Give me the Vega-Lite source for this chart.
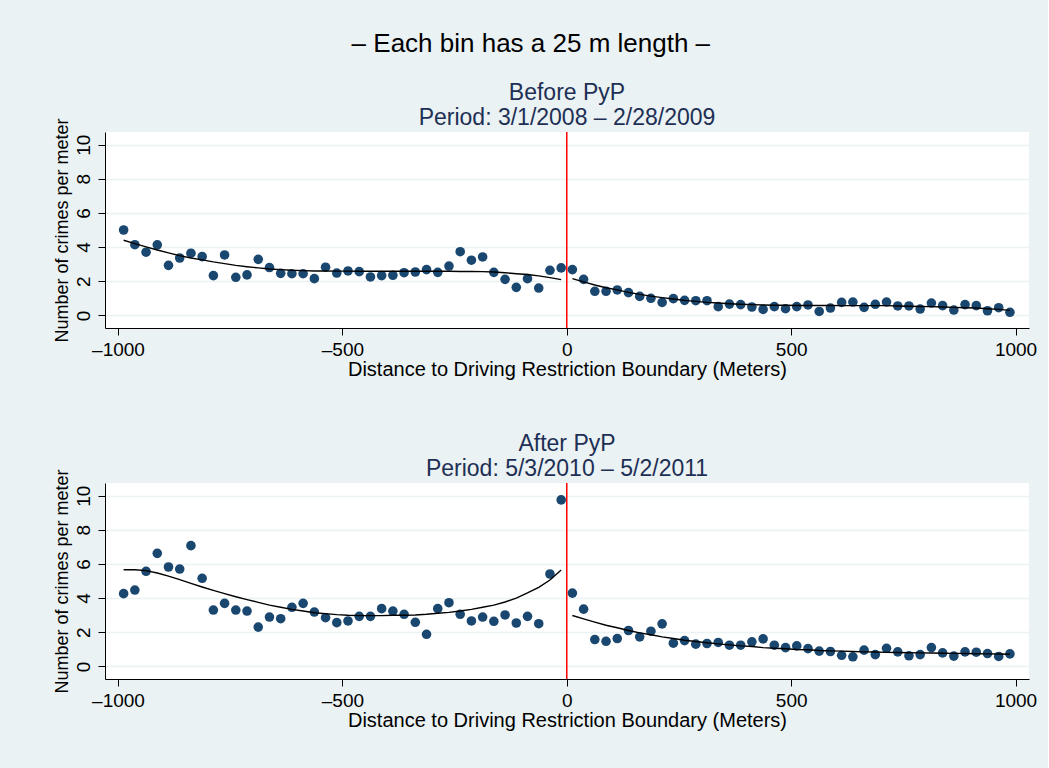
{
  "$schema": "https://vega.github.io/schema/vega-lite/v6.json",
  "background": "#EAF2F3",
  "padding": {"left": 53, "top": 30, "right": 11, "bottom": 38},
  "title": {"text": "– Each bin has a 25 m length –", "fontSize": 26, "fontWeight": "normal", "color": "#000000", "anchor": "middle", "offset": 25, "dx": -14},
  "spacing": 53,
  "datasets": {
    "before": [
      {"side":"L","x":-987.5,"y":5.00,"fit":4.40},{"side":"L","x":-962.5,"y":4.14,"fit":4.20},{"side":"L","x":-937.5,"y":3.70,"fit":4.01},{"side":"L","x":-912.5,"y":4.13,"fit":3.83},
      {"side":"L","x":-887.5,"y":2.93,"fit":3.66},{"side":"L","x":-862.5,"y":3.36,"fit":3.50},{"side":"L","x":-837.5,"y":3.64,"fit":3.36},{"side":"L","x":-812.5,"y":3.44,"fit":3.25},
      {"side":"L","x":-787.5,"y":2.33,"fit":3.13},{"side":"L","x":-762.5,"y":3.54,"fit":3.03},{"side":"L","x":-737.5,"y":2.23,"fit":2.93},{"side":"L","x":-712.5,"y":2.37,"fit":2.85},
      {"side":"L","x":-687.5,"y":3.28,"fit":2.78},{"side":"L","x":-662.5,"y":2.80,"fit":2.72},{"side":"L","x":-637.5,"y":2.46,"fit":2.68},{"side":"L","x":-612.5,"y":2.44,"fit":2.64},
      {"side":"L","x":-587.5,"y":2.44,"fit":2.62},{"side":"L","x":-562.5,"y":2.15,"fit":2.60},{"side":"L","x":-537.5,"y":2.82,"fit":2.60},{"side":"L","x":-512.5,"y":2.48,"fit":2.59},
      {"side":"L","x":-487.5,"y":2.60,"fit":2.59},{"side":"L","x":-462.5,"y":2.56,"fit":2.58},{"side":"L","x":-437.5,"y":2.25,"fit":2.58},{"side":"L","x":-412.5,"y":2.33,"fit":2.58},
      {"side":"L","x":-387.5,"y":2.35,"fit":2.58},{"side":"L","x":-362.5,"y":2.50,"fit":2.58},{"side":"L","x":-337.5,"y":2.54,"fit":2.58},{"side":"L","x":-312.5,"y":2.68,"fit":2.58},
      {"side":"L","x":-287.5,"y":2.52,"fit":2.58},{"side":"L","x":-262.5,"y":2.89,"fit":2.58},{"side":"L","x":-237.5,"y":3.73,"fit":2.57},{"side":"L","x":-212.5,"y":3.23,"fit":2.57},
      {"side":"L","x":-187.5,"y":3.42,"fit":2.56},{"side":"L","x":-162.5,"y":2.52,"fit":2.54},{"side":"L","x":-137.5,"y":2.11,"fit":2.50},{"side":"L","x":-112.5,"y":1.64,"fit":2.44},
      {"side":"L","x":-87.5,"y":2.15,"fit":2.39},{"side":"L","x":-62.5,"y":1.60,"fit":2.31},{"side":"L","x":-37.5,"y":2.64,"fit":2.21},{"side":"L","x":-12.5,"y":2.78,"fit":2.09},
      {"side":"R","x":12.5,"y":2.68,"fit":2.15},{"side":"R","x":37.5,"y":2.11,"fit":1.96},{"side":"R","x":62.5,"y":1.41,"fit":1.78},{"side":"R","x":87.5,"y":1.41,"fit":1.62},
      {"side":"R","x":112.5,"y":1.49,"fit":1.49},{"side":"R","x":137.5,"y":1.33,"fit":1.35},{"side":"R","x":162.5,"y":1.11,"fit":1.23},{"side":"R","x":187.5,"y":1.00,"fit":1.13},
      {"side":"R","x":212.5,"y":0.76,"fit":1.04},{"side":"R","x":237.5,"y":0.98,"fit":0.96},{"side":"R","x":262.5,"y":0.88,"fit":0.88},{"side":"R","x":287.5,"y":0.86,"fit":0.82},
      {"side":"R","x":312.5,"y":0.86,"fit":0.76},{"side":"R","x":337.5,"y":0.51,"fit":0.72},{"side":"R","x":362.5,"y":0.66,"fit":0.68},{"side":"R","x":387.5,"y":0.63,"fit":0.65},
      {"side":"R","x":412.5,"y":0.49,"fit":0.63},{"side":"R","x":437.5,"y":0.35,"fit":0.61},{"side":"R","x":462.5,"y":0.51,"fit":0.59},{"side":"R","x":487.5,"y":0.39,"fit":0.59},
      {"side":"R","x":512.5,"y":0.51,"fit":0.58},{"side":"R","x":537.5,"y":0.61,"fit":0.58},{"side":"R","x":562.5,"y":0.23,"fit":0.58},{"side":"R","x":587.5,"y":0.43,"fit":0.58},
      {"side":"R","x":612.5,"y":0.76,"fit":0.57},{"side":"R","x":637.5,"y":0.78,"fit":0.57},{"side":"R","x":662.5,"y":0.47,"fit":0.57},{"side":"R","x":687.5,"y":0.65,"fit":0.57},
      {"side":"R","x":712.5,"y":0.78,"fit":0.57},{"side":"R","x":737.5,"y":0.55,"fit":0.55},{"side":"R","x":762.5,"y":0.55,"fit":0.53},{"side":"R","x":787.5,"y":0.37,"fit":0.52},
      {"side":"R","x":812.5,"y":0.72,"fit":0.51},{"side":"R","x":837.5,"y":0.57,"fit":0.49},{"side":"R","x":862.5,"y":0.31,"fit":0.47},{"side":"R","x":887.5,"y":0.63,"fit":0.45},
      {"side":"R","x":912.5,"y":0.57,"fit":0.43},{"side":"R","x":937.5,"y":0.27,"fit":0.39},{"side":"R","x":962.5,"y":0.45,"fit":0.35},{"side":"R","x":987.5,"y":0.18,"fit":0.29}
    ],
    "after": [
      {"side":"L","x":-987.5,"y":4.26,"fit":5.66},{"side":"L","x":-962.5,"y":4.47,"fit":5.66},{"side":"L","x":-937.5,"y":5.57,"fit":5.61},{"side":"L","x":-912.5,"y":6.62,"fit":5.47},
      {"side":"L","x":-887.5,"y":5.82,"fit":5.29},{"side":"L","x":-862.5,"y":5.70,"fit":5.08},{"side":"L","x":-837.5,"y":7.07,"fit":4.86},{"side":"L","x":-812.5,"y":5.16,"fit":4.65},
      {"side":"L","x":-787.5,"y":3.30,"fit":4.45},{"side":"L","x":-762.5,"y":3.69,"fit":4.26},{"side":"L","x":-737.5,"y":3.30,"fit":4.08},{"side":"L","x":-712.5,"y":3.24,"fit":3.91},
      {"side":"L","x":-687.5,"y":2.30,"fit":3.75},{"side":"L","x":-662.5,"y":2.89,"fit":3.59},{"side":"L","x":-637.5,"y":2.79,"fit":3.46},{"side":"L","x":-612.5,"y":3.46,"fit":3.34},
      {"side":"L","x":-587.5,"y":3.69,"fit":3.24},{"side":"L","x":-562.5,"y":3.18,"fit":3.14},{"side":"L","x":-537.5,"y":2.85,"fit":3.09},{"side":"L","x":-512.5,"y":2.56,"fit":3.03},
      {"side":"L","x":-487.5,"y":2.66,"fit":2.99},{"side":"L","x":-462.5,"y":2.93,"fit":2.97},{"side":"L","x":-437.5,"y":2.93,"fit":2.97},{"side":"L","x":-412.5,"y":3.38,"fit":2.97},
      {"side":"L","x":-387.5,"y":3.24,"fit":2.99},{"side":"L","x":-362.5,"y":3.05,"fit":2.99},{"side":"L","x":-337.5,"y":2.58,"fit":3.01},{"side":"L","x":-312.5,"y":1.88,"fit":3.05},
      {"side":"L","x":-287.5,"y":3.38,"fit":3.11},{"side":"L","x":-262.5,"y":3.73,"fit":3.16},{"side":"L","x":-237.5,"y":3.05,"fit":3.24},{"side":"L","x":-212.5,"y":2.66,"fit":3.34},
      {"side":"L","x":-187.5,"y":2.89,"fit":3.46},{"side":"L","x":-162.5,"y":2.64,"fit":3.59},{"side":"L","x":-137.5,"y":3.01,"fit":3.77},{"side":"L","x":-112.5,"y":2.54,"fit":4.00},
      {"side":"L","x":-87.5,"y":2.93,"fit":4.30},{"side":"L","x":-62.5,"y":2.50,"fit":4.63},{"side":"L","x":-37.5,"y":5.41,"fit":5.06},{"side":"L","x":-12.5,"y":9.75,"fit":5.64},
      {"side":"R","x":12.5,"y":4.29,"fit":2.98},{"side":"R","x":37.5,"y":3.35,"fit":2.78},{"side":"R","x":62.5,"y":1.57,"fit":2.59},{"side":"R","x":87.5,"y":1.47,"fit":2.41},
      {"side":"R","x":112.5,"y":1.63,"fit":2.26},{"side":"R","x":137.5,"y":2.10,"fit":2.10},{"side":"R","x":162.5,"y":1.73,"fit":1.96},{"side":"R","x":187.5,"y":2.06,"fit":1.85},
      {"side":"R","x":212.5,"y":2.49,"fit":1.73},{"side":"R","x":237.5,"y":1.36,"fit":1.63},{"side":"R","x":262.5,"y":1.51,"fit":1.53},{"side":"R","x":287.5,"y":1.30,"fit":1.46},
      {"side":"R","x":312.5,"y":1.34,"fit":1.38},{"side":"R","x":337.5,"y":1.40,"fit":1.32},{"side":"R","x":362.5,"y":1.24,"fit":1.26},{"side":"R","x":387.5,"y":1.24,"fit":1.20},
      {"side":"R","x":412.5,"y":1.44,"fit":1.16},{"side":"R","x":437.5,"y":1.61,"fit":1.10},{"side":"R","x":462.5,"y":1.24,"fit":1.06},{"side":"R","x":487.5,"y":1.10,"fit":1.03},
      {"side":"R","x":512.5,"y":1.20,"fit":0.99},{"side":"R","x":537.5,"y":1.04,"fit":0.97},{"side":"R","x":562.5,"y":0.89,"fit":0.93},{"side":"R","x":587.5,"y":0.87,"fit":0.91},
      {"side":"R","x":612.5,"y":0.65,"fit":0.89},{"side":"R","x":637.5,"y":0.56,"fit":0.87},{"side":"R","x":662.5,"y":0.95,"fit":0.85},{"side":"R","x":687.5,"y":0.69,"fit":0.84},
      {"side":"R","x":712.5,"y":1.06,"fit":0.82},{"side":"R","x":737.5,"y":0.85,"fit":0.81},{"side":"R","x":762.5,"y":0.62,"fit":0.80},{"side":"R","x":787.5,"y":0.69,"fit":0.79},
      {"side":"R","x":812.5,"y":1.10,"fit":0.78},{"side":"R","x":837.5,"y":0.79,"fit":0.77},{"side":"R","x":862.5,"y":0.60,"fit":0.76},{"side":"R","x":887.5,"y":0.85,"fit":0.75},
      {"side":"R","x":912.5,"y":0.83,"fit":0.74},{"side":"R","x":937.5,"y":0.75,"fit":0.73},{"side":"R","x":962.5,"y":0.58,"fit":0.72},{"side":"R","x":987.5,"y":0.73,"fit":0.71}
    ],
    "boundary": [{"x0": 0}]
  },
  "vconcat": [
    {
      "width": 924, "height": 196,
      "title": {"text": ["Before PyP", "Period: 3/1/2008 – 2/28/2009"], "fontSize": 23, "fontWeight": "normal", "color": "#1E2F55", "lineHeight": 25, "offset": -12, "anchor": "middle"},
      "layer": [
        {"data": {"name": "before"}, "mark": {"type": "point", "filled": true, "size": 92, "color": "#1A476F", "opacity": 1},
         "encoding": {
           "x": {"field": "x", "type": "quantitative", "scale": {"domain": [-1029, 1030], "nice": false, "zero": false},
                 "axis": {"values": [-1000, -500, 0, 500, 1000], "title": "Distance to Driving Restriction Boundary (Meters)", "grid": false, "labelExpr": "datum.value < 0 ? '–' + abs(datum.value) : '' + datum.value"}},
           "y": {"field": "y", "type": "quantitative", "scale": {"domain": [-0.74, 10.74], "nice": false, "zero": false},
                 "axis": {"values": [0, 2, 4, 6, 8, 10], "title": "Number of crimes per meter", "grid": true, "labelOverlap": false}}
         }},
        {"data": {"name": "before"}, "mark": {"type": "line", "color": "#000000", "strokeWidth": 1.4},
         "encoding": {
           "x": {"field": "x", "type": "quantitative",
                 "axis": {"values": [-1000, -500, 0, 500, 1000], "title": "Distance to Driving Restriction Boundary (Meters)", "grid": false, "labelExpr": "datum.value < 0 ? '–' + abs(datum.value) : '' + datum.value"}},
           "y": {"field": "fit", "type": "quantitative",
                 "axis": {"values": [0, 2, 4, 6, 8, 10], "title": "Number of crimes per meter", "grid": true, "labelOverlap": false}},
           "detail": {"field": "side"}}},
        {"data": {"name": "boundary"}, "mark": {"type": "rule", "color": "#FF0000", "strokeWidth": 1.5},
         "encoding": {"x": {"field": "x0", "type": "quantitative",
                 "axis": {"values": [-1000, -500, 0, 500, 1000], "title": "Distance to Driving Restriction Boundary (Meters)", "grid": false, "labelExpr": "datum.value < 0 ? '–' + abs(datum.value) : '' + datum.value"}}}}
      ]
    },
    {
      "width": 924, "height": 196,
      "title": {"text": ["After PyP", "Period: 5/3/2010 – 5/2/2011"], "fontSize": 23, "fontWeight": "normal", "color": "#1E2F55", "lineHeight": 25, "offset": -12, "anchor": "middle"},
      "layer": [
        {"data": {"name": "after"}, "mark": {"type": "point", "filled": true, "size": 92, "color": "#1A476F", "opacity": 1},
         "encoding": {
           "x": {"field": "x", "type": "quantitative", "scale": {"domain": [-1029, 1030], "nice": false, "zero": false},
                 "axis": {"values": [-1000, -500, 0, 500, 1000], "title": "Distance to Driving Restriction Boundary (Meters)", "grid": false, "labelExpr": "datum.value < 0 ? '–' + abs(datum.value) : '' + datum.value"}},
           "y": {"field": "y", "type": "quantitative", "scale": {"domain": [-0.74, 10.74], "nice": false, "zero": false},
                 "axis": {"values": [0, 2, 4, 6, 8, 10], "title": "Number of crimes per meter", "grid": true, "labelOverlap": false}}
         }},
        {"data": {"name": "after"}, "mark": {"type": "line", "color": "#000000", "strokeWidth": 1.4},
         "encoding": {
           "x": {"field": "x", "type": "quantitative",
                 "axis": {"values": [-1000, -500, 0, 500, 1000], "title": "Distance to Driving Restriction Boundary (Meters)", "grid": false, "labelExpr": "datum.value < 0 ? '–' + abs(datum.value) : '' + datum.value"}},
           "y": {"field": "fit", "type": "quantitative",
                 "axis": {"values": [0, 2, 4, 6, 8, 10], "title": "Number of crimes per meter", "grid": true, "labelOverlap": false}},
           "detail": {"field": "side"}}},
        {"data": {"name": "boundary"}, "mark": {"type": "rule", "color": "#FF0000", "strokeWidth": 1.5},
         "encoding": {"x": {"field": "x0", "type": "quantitative",
                 "axis": {"values": [-1000, -500, 0, 500, 1000], "title": "Distance to Driving Restriction Boundary (Meters)", "grid": false, "labelExpr": "datum.value < 0 ? '–' + abs(datum.value) : '' + datum.value"}}}}
      ]
    }
  ],
  "config": {
    "font": "Liberation Sans",
    "view": {"fill": "#FFFFFF", "stroke": null},
    "title": {"font": "Liberation Sans"},
    "axis": {
      "domainColor": "#000000", "domainWidth": 1, "tickColor": "#000000", "tickWidth": 1, "tickSize": 7,
      "labelFont": "Liberation Sans", "labelFontSize": 19, "labelColor": "#000000", "labelPadding": 5, "labelOverlap": false,
      "titleFont": "Liberation Sans", "titleFontSize": 20, "titleFontWeight": "normal", "titleColor": "#000000", "titlePadding": 2,
      "gridColor": "#EAF2F3", "gridWidth": 1.5
    },
    "axisY": {"labelAngle": -90, "labelAlign": "center", "labelBaseline": "bottom", "titlePadding": 3, "titleFontSize": 18},
    "axisX": {"labelBaseline": "top", "titlePadding": 0}
  }
}
